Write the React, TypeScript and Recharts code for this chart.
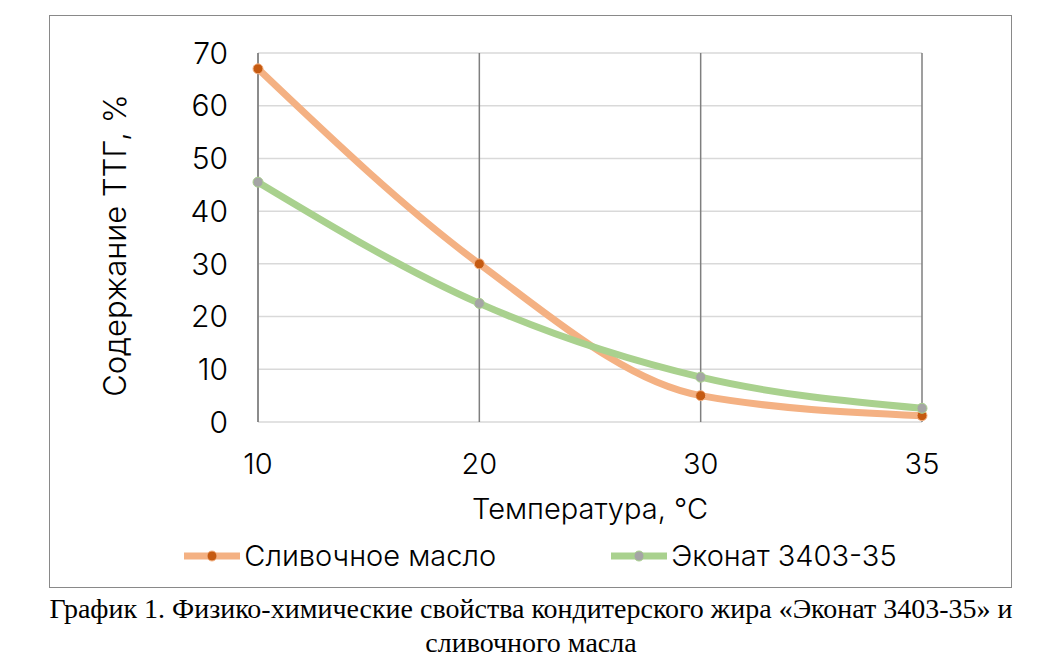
import React from "react";
import {
  LineChart,
  Line,
  XAxis,
  YAxis,
  CartesianGrid,
  Legend,
} from "recharts";

const temperatures = ["10", "20", "30", "35"];
const butterValues = [67, 30, 5, 1.2];
const ekonatValues = [45.5, 22.5, 8.5, 2.6];
const yTicks = [0, 10, 20, 30, 40, 50, 60, 70];

const BUTTER = "Сливочное масло";
const EKONAT = "Эконат 3403-35";

const data = temperatures.map((t, i) => ({
  t,
  butter: butterValues[i],
  ekonat: ekonatValues[i],
}));

const FONT = "Inter, 'DejaVu Sans', sans-serif";

function LegendContent() {
  const items = [
    { name: BUTTER, line: "#F4B183", dot: "#C55A11" },
    { name: EKONAT, line: "#A9D18E", dot: "#A5A5A5" },
  ];
  return (
    <div style={{ display: "flex", justifyContent: "center", gap: 115, fontFamily: FONT, fontWeight: 300 }}>
      {items.map((it) => (
        <div key={it.name} style={{ display: "flex", alignItems: "center" }}>
          <svg width={56} height={14} style={{ marginRight: 4 }}>
            <line x1={0} y1={7} x2={56} y2={7} stroke={it.line} strokeWidth={7} strokeLinecap="round" />
            <circle cx={28} cy={7} r={5} fill={it.dot} stroke={it.line} strokeWidth={1} />
          </svg>
          <span style={{ fontSize: 29, color: "#000" }}>{it.name}</span>
        </div>
      ))}
    </div>
  );
}

export default function App() {
  return (
    <div style={{ position: "absolute", left: 0, top: 0, width: 1062, height: 665, background: "#fff" }}>
      <div
        style={{
          position: "absolute",
          left: 49,
          top: 15,
          width: 963,
          height: 573,
          border: "1px solid #898989",
          boxSizing: "border-box",
        }}
      >
        <LineChart
          width={961}
          height={571}
          data={data}
          margin={{ top: 37, right: 89, bottom: 0, left: 0 }}
        >
          <CartesianGrid horizontal vertical={false} stroke="#D9D9D9" strokeWidth={1.5} />
          <CartesianGrid horizontal={false} vertical stroke="#7F7F7F" strokeWidth={1.5} />
          <XAxis
            dataKey="t"
            axisLine={false}
            tickLine={false}
            tickMargin={25}
            height={130}
            tick={{ fill: "#000", fontSize: 29, fontFamily: FONT, fontWeight: 300 }}
            label={(props: any) => {
              const vb = props.viewBox;
              return (
                <text
                  x={vb.x + vb.width / 2}
                  y={vb.y + 97}
                  textAnchor="middle"
                  fontSize={29}
                  fontFamily={FONT}
                  fontWeight={300}
                  fill="#000"
                >
                  Температура, °С
                </text>
              );
            }}
          />
          <YAxis
            domain={[0, 70]}
            ticks={yTicks}
            width={208}
            axisLine={{ stroke: "#868686", strokeWidth: 1.5 }}
            tickLine={false}
            tickMargin={24}
            tick={{ fill: "#000", fontSize: 30, fontFamily: FONT, fontWeight: 300 }}
            label={(props: any) => {
              const vb = props.viewBox;
              const cx = vb.x + 64;
              const cy = vb.y + vb.height / 2 + 8;
              return (
                <text
                  x={cx}
                  y={cy}
                  transform={`rotate(-90 ${cx} ${cy})`}
                  textAnchor="middle"
                  dominantBaseline="central"
                  fontSize={31}
                  fontFamily={FONT}
                  fontWeight={300}
                  fill="#000"
                >
                  Содержание ТТГ, %
                </text>
              );
            }}
          />
          <Legend
            content={<LegendContent />}
            verticalAlign="bottom"
            wrapperStyle={{ bottom: 14, left: 10, width: 961 }}
          />
          <Line
            type="monotone"
            dataKey="butter"
            name={BUTTER}
            stroke="#F4B183"
            strokeWidth={7}
            dot={{ r: 5, fill: "#C55A11", stroke: "#F4B183", strokeWidth: 1 }}
            isAnimationActive={false}
          />
          <Line
            type="monotone"
            dataKey="ekonat"
            name={EKONAT}
            stroke="#A9D18E"
            strokeWidth={7}
            dot={{ r: 5, fill: "#A5A5A5", stroke: "#A9D18E", strokeWidth: 1 }}
            isAnimationActive={false}
          />
        </LineChart>
      </div>
      <div
        style={{
          position: "absolute",
          left: 0,
          top: 592,
          width: 1062,
          textAlign: "center",
          fontFamily: "'Liberation Serif', 'Times New Roman', serif",
          fontSize: 28,
          lineHeight: "34px",
          color: "#000",
        }}
      >
        График 1. Физико-химические свойства кондитерского жира «Эконат 3403-35» и
        <br />
        сливочного масла
      </div>
    </div>
  );
}
